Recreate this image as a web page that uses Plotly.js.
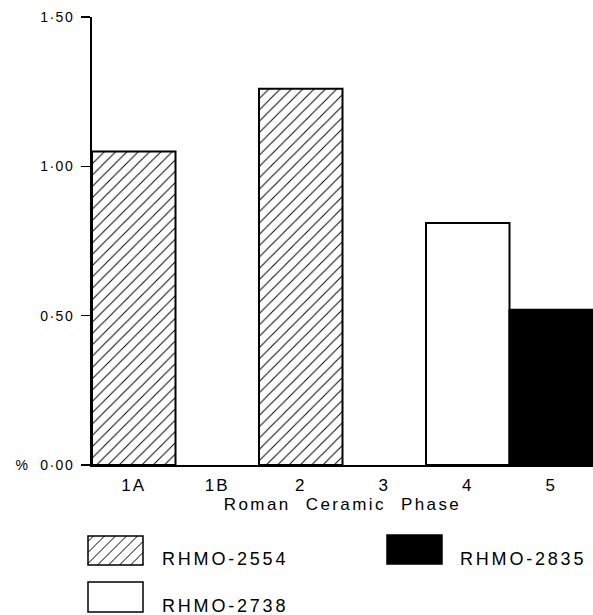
<!DOCTYPE html>
<html>
<head>
<meta charset="utf-8">
<script src="https://cdn.plot.ly/plotly-3.0.1.min.js"></script>
<style>
  html, body { margin: 0; padding: 0; background: #fff; }
  #chart { width: 593px; height: 615px; }
  #chart .xtick text { letter-spacing: 2px; }
  #chart .ytick text { letter-spacing: 1.5px; }
  #chart .g-xtitle text { letter-spacing: 2.4px; word-spacing: 8px; }
  #chart .annotation-text { letter-spacing: 2.8px; }
</style>
</head>
<body>
<div id="chart"></div>
<script>
// ---- data ----
const categories = ['1A', '1B', '2', '3', '4', '5'];
const rhmo2554 = [1.05, null, 1.26, null, null, null];
const rhmo2738 = [null, null, null, null, 0.81, null];
const rhmo2835 = [null, null, null, null, null, 0.52];
const seriesNames = ['RHMO-2554', 'RHMO-2738', 'RHMO-2835'];
const yTickVals = [0, 0.5, 1.0, 1.5];
const yTickText = ['%\u00a0\u00a00·00', '0·50', '1·00', '1·50'];
const xTitle = 'Roman Ceramic Phase';

const FONT = 'Liberation Sans, Arial, Helvetica, sans-serif';
const INK = '#000';

const barLine = { color: INK, width: 2 };

const traces = [
  {
    type: 'bar', name: seriesNames[0], x: categories, y: rhmo2554,
    marker: {
      color: 'white', line: barLine,
      pattern: { shape: '/', size: 8, solidity: 0.12, fgcolor: INK, bgcolor: 'white', fillmode: 'replace' }
    },
    showlegend: false, hoverinfo: 'x+y'
  },
  {
    type: 'bar', name: seriesNames[1], x: categories, y: rhmo2738,
    marker: { color: 'white', line: barLine },
    showlegend: false, hoverinfo: 'x+y'
  },
  {
    type: 'bar', name: seriesNames[2], x: categories, y: rhmo2835,
    marker: { color: '#000', line: barLine },
    showlegend: false, hoverinfo: 'x+y'
  }
];

// ---- legend (drawn as shapes + annotations in paper coords) ----
const W = 593, H = 615;
const M = { l: 92, r: 0, t: 17, b: 150 };
const PW = W - M.l - M.r, PH = H - M.t - M.b;
const px = X => (X - M.l) / PW;
const py = Y => (H - M.b - Y) / PH;

function rectPath(x0, y0, x1, y1) {
  return `M${px(x0)},${py(y0)} L${px(x1)},${py(y0)} L${px(x1)},${py(y1)} L${px(x0)},${py(y1)} Z`;
}
function hatchPath(x0, y0, x1, y1, s) {
  let d = '';
  for (let k = x0 + y0 + s / 2; k < x1 + y1; k += s) {
    const ya = Math.min(y1, k - x0), xa = k - ya;
    const yb = Math.max(y0, k - x1), xb = k - yb;
    if (xa > x1 || xb < x0) continue;
    d += `M${px(xa)},${py(ya)} L${px(xb)},${py(yb)} `;
  }
  return d;
}

const legendBoxes = [
  { name: seriesNames[0], box: [88, 536, 143, 565], fill: 'white', hatch: true, text: [160, 559] },
  { name: seriesNames[1], box: [88, 582, 143, 612], fill: 'white', hatch: false, text: [160, 606] },
  { name: seriesNames[2], box: [387, 535, 442, 564], fill: '#000', hatch: false, text: [458, 559] }
];

const shapes = [];
const annotations = [];
legendBoxes.forEach(b => {
  const [x0, y0, x1, y1] = b.box;
  shapes.push({
    type: 'path', xref: 'paper', yref: 'paper', path: rectPath(x0, y0, x1, y1),
    fillcolor: b.fill, line: { color: INK, width: 1.5 }
  });
  if (b.hatch) {
    shapes.push({
      type: 'path', xref: 'paper', yref: 'paper', path: hatchPath(x0, y0, x1, y1, 11),
      line: { color: INK, width: 1 }
    });
  }
  annotations.push({
    xref: 'paper', yref: 'paper', x: px(b.text[0]), y: py(b.text[1]),
    xanchor: 'left', yanchor: 'middle', align: 'left', showarrow: false,
    text: b.name, font: { family: FONT, size: 18, color: INK }
  });
});

const layout = {
  width: W, height: H,
  margin: M,
  paper_bgcolor: 'white', plot_bgcolor: 'white',
  barmode: 'overlay', bargap: 0,
  showlegend: false,
  font: { family: FONT, color: INK },
  xaxis: {
    type: 'category', categoryorder: 'array', categoryarray: categories,
    range: [-0.5, 5.5], showline: true, linecolor: INK, linewidth: 2,
    ticks: '', showgrid: false, zeroline: false,
    tickfont: { family: FONT, size: 17, color: INK },
    ticklabelstandoff: 4,
    title: { text: xTitle, font: { family: FONT, size: 17, color: INK }, standoff: 3 },
    fixedrange: true
  },
  yaxis: {
    range: [0, 1.5], tickvals: yTickVals, ticktext: yTickText,
    showline: true, linecolor: INK, linewidth: 2,
    ticks: 'outside', ticklen: 9, tickwidth: 1.5, tickcolor: INK,
    showgrid: false, zeroline: false,
    tickfont: { family: FONT, size: 14, color: INK },
    ticklabelstandoff: 4,
    fixedrange: true
  },
  shapes: shapes,
  annotations: annotations
};

Plotly.newPlot('chart', traces, layout, { displayModeBar: false, staticPlot: true });
</script>
</body>
</html>
